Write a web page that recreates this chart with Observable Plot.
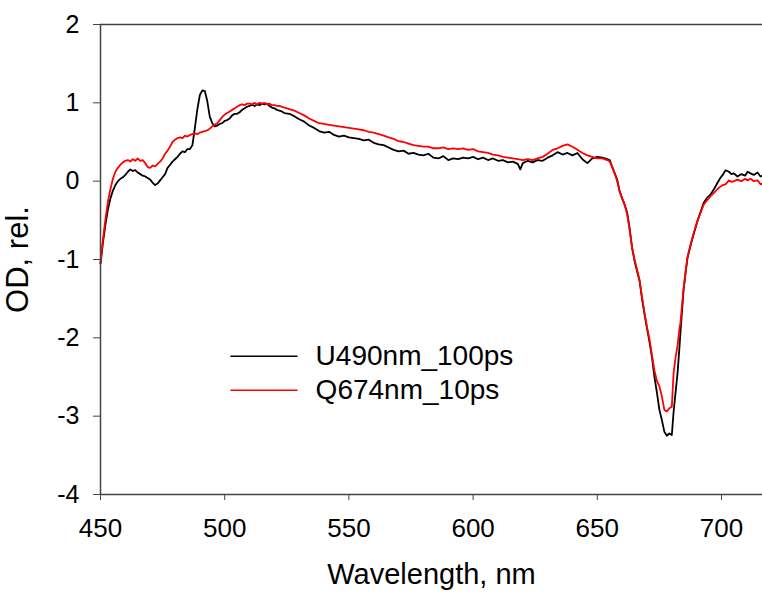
<!DOCTYPE html>
<html><head><meta charset="utf-8">
<script src="https://cdn.jsdelivr.net/npm/d3@7"></script>
<script src="https://cdn.jsdelivr.net/npm/@observablehq/plot@0.6"></script>
<style>html,body{margin:0;padding:0;background:#fff}</style>
</head><body><div id="chart"></div>
<script>
const seriesNames = ["U490nm_100ps", "Q674nm_10ps"];
const seriesColors = ["#000000", "#ff0000"];
const xTicks = [450, 500, 550, 600, 650, 700];
const yTicks = [-4, -3, -2, -1, 0, 1, 2];
const xTitle = "Wavelength, nm";
const yTitle = "OD, rel.";

const u490Nm = [450,450.5,451,452,453,454,455,456,457,458,459,460,461,462,463,464,465,466,467,468,469,470,471,472,473,474,475,476,477,478,479,480,481,482,483,484,485,486,487,488,489,490,491,492,493,494,495,496,497,498,499,500,501,502,503,504,505,506,507,508,509,510,511,512,513,514,515,516,517,518,519,520,521,522,523,524,526,528,530,532,534,536,538,540,542,544,546,548,550,552,554,556,558,560,562,564,566,568,570,572,574,576,578,580,582,584,586,588,590,592,594,596,598,600,602,604,606,608,610,612,614,616,618,619,620,622,624,626,628,630,632,634,636,638,640,642,644,646,648,650,652,654,655,656,657,658,659,660,661,662,663,664,665,666,667,668,669,670,671,672,673,674,675,676,677,678,679,680,680.7,681.5,682.3,683,683.5,684,684.7,685.5,686.3,687.3,688.3,689.3,690.3,691.5,692.8,694,695.6,697,698.4,699.5,700.5,701.6,703,704,705,706.4,708,709.5,710.5,711.7,713,714.5,715.7,716.5];
const u490OD = [-1.05,-0.92,-0.78,-0.55,-0.36,-0.22,-0.12,-0.05,0.00,0.03,0.05,0.08,0.12,0.15,0.13,0.14,0.11,0.09,0.07,0.06,0.04,0.02,-0.02,-0.05,-0.03,0.01,0.05,0.09,0.17,0.21,0.25,0.28,0.31,0.35,0.38,0.37,0.41,0.41,0.46,0.68,0.92,1.10,1.16,1.15,1.02,0.82,0.74,0.70,0.71,0.73,0.74,0.77,0.78,0.80,0.84,0.86,0.86,0.88,0.91,0.93,0.95,0.96,0.98,0.96,0.98,0.97,0.99,0.98,0.99,0.96,0.94,0.93,0.91,0.90,0.89,0.87,0.86,0.83,0.79,0.76,0.71,0.68,0.64,0.62,0.63,0.59,0.57,0.58,0.56,0.55,0.54,0.52,0.53,0.49,0.47,0.46,0.43,0.40,0.38,0.39,0.35,0.36,0.34,0.33,0.35,0.30,0.29,0.32,0.27,0.29,0.28,0.30,0.29,0.31,0.28,0.30,0.27,0.29,0.26,0.27,0.24,0.25,0.22,0.15,0.23,0.26,0.24,0.27,0.26,0.30,0.33,0.37,0.34,0.36,0.33,0.36,0.28,0.23,0.29,0.31,0.30,0.28,0.27,0.18,0.10,0.02,-0.13,-0.22,-0.30,-0.40,-0.60,-0.85,-1.02,-1.15,-1.27,-1.50,-1.70,-1.88,-2.05,-2.25,-2.50,-2.70,-2.92,-3.05,-3.20,-3.25,-3.22,-3.24,-2.95,-2.70,-2.45,-2.15,-1.92,-1.70,-1.40,-1.18,-0.98,-0.85,-0.73,-0.62,-0.51,-0.40,-0.28,-0.22,-0.17,-0.10,-0.02,0.04,0.08,0.14,0.12,0.09,0.10,0.06,0.09,0.07,0.12,0.10,0.08,0.11,0.06,0.07];

const q674Nm = [450,450.5,451,452,453,454,455,456,457,458,459,460,461,462,463,464,465,466,467,468,469,470,471,472,473,474,475,476,477,478,479,480,481,482,483,484,485,486,487,488,489,490,491,492,493,494,495,496,497,498,499,500,501,502,503,504,505,506,507,508,509,510,511,512,513,514,515,516,517,518,519,520,521,522,524,526,528,530,532,534,536,538,540,542,544,546,548,550,552,554,556,558,560,562,564,566,568,570,572,574,576,578,580,582,584,586,588,590,592,594,596,598,600,602,604,606,608,610,612,614,616,618,620,622,624,626,628,630,632,634,636,638,640,642,644,646,648,650,652,654,655,656,657,658,659,660,661,662,663,664,665,666,667,668,669,670,671,672,673,674,675,676,677,678,679,680,680.7,681.5,682.3,683,683.5,684,684.7,685.5,686.3,687.3,688.3,689.3,690.3,691.5,692.8,694,695.6,697,698.4,699.5,700.5,701.6,703,704,705,706.4,708,709.5,710.5,711.7,713,714.5,715.7,716.5];
const q674OD = [-1.05,-0.90,-0.74,-0.48,-0.26,-0.10,0.03,0.12,0.17,0.21,0.24,0.26,0.27,0.25,0.28,0.26,0.29,0.26,0.27,0.23,0.18,0.17,0.20,0.19,0.22,0.25,0.29,0.35,0.39,0.44,0.50,0.53,0.55,0.56,0.55,0.58,0.57,0.59,0.60,0.61,0.60,0.62,0.63,0.64,0.65,0.67,0.70,0.72,0.74,0.78,0.82,0.85,0.87,0.89,0.91,0.93,0.95,0.97,0.98,0.97,0.99,0.99,0.98,1.00,0.98,1.00,0.99,1.00,0.98,0.99,0.97,0.97,0.96,0.96,0.94,0.92,0.90,0.87,0.84,0.80,0.77,0.74,0.73,0.72,0.71,0.70,0.69,0.68,0.67,0.66,0.65,0.63,0.62,0.60,0.58,0.56,0.54,0.51,0.50,0.48,0.46,0.45,0.44,0.44,0.42,0.42,0.43,0.41,0.42,0.41,0.42,0.40,0.41,0.38,0.37,0.36,0.34,0.33,0.31,0.30,0.29,0.28,0.27,0.28,0.27,0.29,0.31,0.35,0.40,0.42,0.45,0.47,0.44,0.40,0.36,0.33,0.31,0.29,0.29,0.27,0.25,0.18,0.10,0.00,-0.13,-0.22,-0.30,-0.42,-0.62,-0.85,-1.00,-1.13,-1.26,-1.48,-1.68,-1.86,-2.02,-2.22,-2.42,-2.55,-2.62,-2.75,-2.92,-2.94,-2.90,-2.88,-2.45,-2.25,-2.10,-1.90,-1.80,-1.62,-1.38,-1.16,-0.97,-0.84,-0.72,-0.61,-0.51,-0.41,-0.30,-0.25,-0.19,-0.15,-0.10,-0.07,-0.05,-0.04,0.01,-0.01,0.00,0.02,0.00,0.03,0.01,0.03,0.00,0.01,-0.04,-0.03];

const data = [
  ...u490Nm.map((nm, i) => ({nm, od: u490OD[i], s: seriesNames[0]})),
  ...q674Nm.map((nm, i) => ({nm, od: q674OD[i], s: seriesNames[1]}))
];
const legend = seriesNames.map((s, i) => ({s, i}));
const axisColor = "#444";
const fmt = d => String(d);

const chart = Plot.plot({
  width: 762, height: 593,
  marginTop: 24, marginBottom: 99, marginLeft: 100, marginRight: 0,
  style: {fontFamily: "'Liberation Sans', Arial, sans-serif", fontSize: "25px", background: "#fff", color: "#000"},
  x: {domain: [450, 716.5]},
  y: {domain: [-4, 2]},
  color: {domain: seriesNames, range: seriesColors},
  marks: [
    Plot.line(data, {x: "nm", y: "od", z: "s", stroke: "s", strokeWidth: 1.8}),
    Plot.ruleX([450], {stroke: axisColor, strokeWidth: 1.5}),
    Plot.ruleY([-4, 2], {stroke: axisColor, strokeWidth: 1.5}),
    Plot.axisX({ticks: xTicks, tickFormat: () => "", tickSize: 6, stroke: axisColor, label: null}),
    Plot.axisY({ticks: yTicks, tickFormat: () => "", tickSize: 7, stroke: axisColor, label: null}),
    Plot.text(xTicks, {x: d => d, text: fmt, frameAnchor: "bottom", dy: 24, lineAnchor: "top", fontSize: 26, fill: "#000"}),
    Plot.text(yTicks, {y: d => d, text: fmt, frameAnchor: "left", dx: -21, textAnchor: "end", lineAnchor: "middle", fontSize: 25, fill: "#000"}),
    Plot.text([xTitle], {frameAnchor: "bottom", dy: 89, text: d => d, fontSize: 29, fill: "#000", lineAnchor: "bottom"}),
    Plot.text([yTitle], {frameAnchor: "left", dx: -82, text: d => d, fontSize: 31, fill: "#000", rotate: -90, textAnchor: "middle", lineAnchor: "middle"}),
    Plot.link(legend, {x1: 502.3, x2: 529.3, y1: d => -2.235 - d.i * 0.435, y2: d => -2.235 - d.i * 0.435, stroke: "s", strokeWidth: 1.6}),
    Plot.text(legend, {x: 536.6, y: d => -2.235 - d.i * 0.435, text: "s", textAnchor: "start", fontSize: 28, fill: "#000"})
  ]
});
document.getElementById("chart").append(chart);
</script>
</body></html>
